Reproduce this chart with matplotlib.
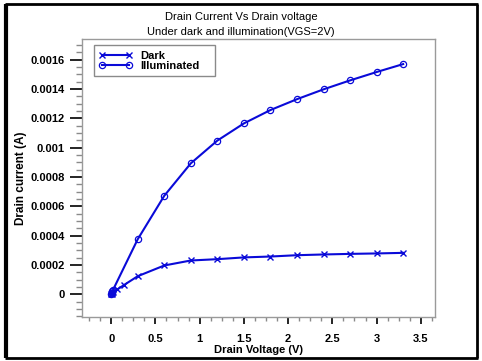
import matplotlib
matplotlib.use("Agg")
import matplotlib.pyplot as plt
from matplotlib.ticker import MultipleLocator, FuncFormatter
from matplotlib.lines import Line2D
from matplotlib.patches import Rectangle

plt.rcParams['font.family'] = ['Liberation Sans', 'DejaVu Sans']

# Drain voltage sweep (V) and drain current (A)
vd_dark = [0, 0.005, 0.01, 0.02, 0.07, 0.15, 0.3, 0.6, 0.9, 1.2, 1.5, 1.8,
           2.1, 2.4, 2.7, 3.0, 3.3]
id_dark = [0, 0.000004, 0.000008, 0.000015, 0.000034, 0.000066, 0.000124,
           0.000197, 0.000231, 0.000240, 0.000252, 0.000258, 0.000267,
           0.000272, 0.000276, 0.000279, 0.000283]

vd_illum = [0, 0.005, 0.01, 0.02, 0.3, 0.6, 0.9, 1.2, 1.5, 1.8, 2.1, 2.4,
            2.7, 3.0, 3.3]
id_illum = [0, 0.00001, 0.00002, 0.00003, 0.000376, 0.000672, 0.000893,
            0.001048, 0.001165, 0.001256, 0.001330, 0.001397, 0.001458,
            0.001515, 0.001569]

series_labels = ["Dark", "Illuminated"]
title_lines = ["Drain Current Vs Drain voltage",
               "Under dark and illumination(VGS=2V)"]

W, H = 482, 361
AX_L, AX_R, AX_T, AX_B = 82, 435, 39, 317
fig = plt.figure(figsize=(W / 100, H / 100), dpi=100)
ax = fig.add_axes([AX_L / W, 1 - AX_B / H, (AX_R - AX_L) / W, (AX_B - AX_T) / H])

blue = '#0a0ad8'
ax.plot(vd_dark, id_dark, color=blue, lw=1.5, marker='x', ms=4.5, mew=1.0,
        label=series_labels[0])
ax.plot(vd_illum, id_illum, color=blue, lw=1.5, marker='o', ms=4.5, mew=0.9,
        mfc='none', label=series_labels[1])

ax.set_xlim(-0.33, 3.66)
ax.set_ylim(-0.000154, 0.00174)

ax.xaxis.set_major_locator(MultipleLocator(0.5))
ax.xaxis.set_minor_locator(MultipleLocator(0.125))
ax.yaxis.set_major_locator(MultipleLocator(0.0002))
ax.yaxis.set_minor_locator(MultipleLocator(0.00005))
fmt = FuncFormatter(lambda v, p: '{:g}'.format(round(v, 6)))
ax.xaxis.set_major_formatter(fmt)
ax.yaxis.set_major_formatter(fmt)

for s in ax.spines.values():
    s.set_color('#9a9a9a')
    s.set_linewidth(1.0)

ax.tick_params(axis='y', which='major', length=8.6, width=1.2, color='black',
               pad=4, labelsize=8)
ax.tick_params(axis='y', which='minor', length=4.3, width=1.0, color='#8a8a8a')
ax.tick_params(axis='x', which='major', length=5, width=1.2, color='black',
               pad=7, labelsize=8)
ax.tick_params(axis='x', which='minor', length=3, width=1.0, color='#8a8a8a')
for lab in ax.get_xticklabels() + ax.get_yticklabels():
    lab.set_fontweight('bold')

ax.set_xlabel('Drain Voltage (V)', fontsize=8, fontweight='bold', labelpad=1)
ax.set_ylabel('Drain current (A)', fontsize=8.5, fontweight='bold', labelpad=2)

fig.text(0.5, 1 - 17 / H, title_lines[0], ha='center', va='center', fontsize=8)
fig.text(0.5, 1 - 32 / H, title_lines[1], ha='center', va='center', fontsize=8)

# legend: entries without a frame, box drawn separately
aw, ah = AX_R - AX_L, AX_B - AX_T
leg = ax.legend(loc='upper left',
                bbox_to_anchor=((99 - AX_L) / aw, 1 - (51 - AX_T) / ah),
                numpoints=2, frameon=False,
                prop={'weight': 'bold', 'size': 8}, handlelength=3.0,
                handletextpad=0.7, borderpad=0.0, labelspacing=0.0,
                borderaxespad=0)
box = Rectangle(((94 - AX_L) / aw, 1 - (76 - AX_T) / ah), (215 - 94) / aw,
                (76 - 45) / ah, transform=ax.transAxes, fill=True, fc='white',
                ec='#8a8a8a', lw=1.0, zorder=4)
ax.add_patch(box)
leg.set_zorder(5)

# outer black frame
frame_kw = dict(transform=fig.transFigure, color='black', solid_capstyle='butt')
fig.add_artist(Line2D([5.5 / W, 5.5 / W], [1 - 4 / H, 1 - 358 / H], lw=3, **frame_kw))
fig.add_artist(Line2D([5 / W, 478 / W], [1 - 4 / H, 1 - 4 / H], lw=2, **frame_kw))
fig.add_artist(Line2D([477 / W, 477 / W], [1 - 4 / H, 1 - 358 / H], lw=2, **frame_kw))
fig.add_artist(Line2D([5 / W, 478 / W], [1 - 357.5 / H, 1 - 357.5 / H], lw=2, **frame_kw))

fig.savefig('out.png', dpi=100)
